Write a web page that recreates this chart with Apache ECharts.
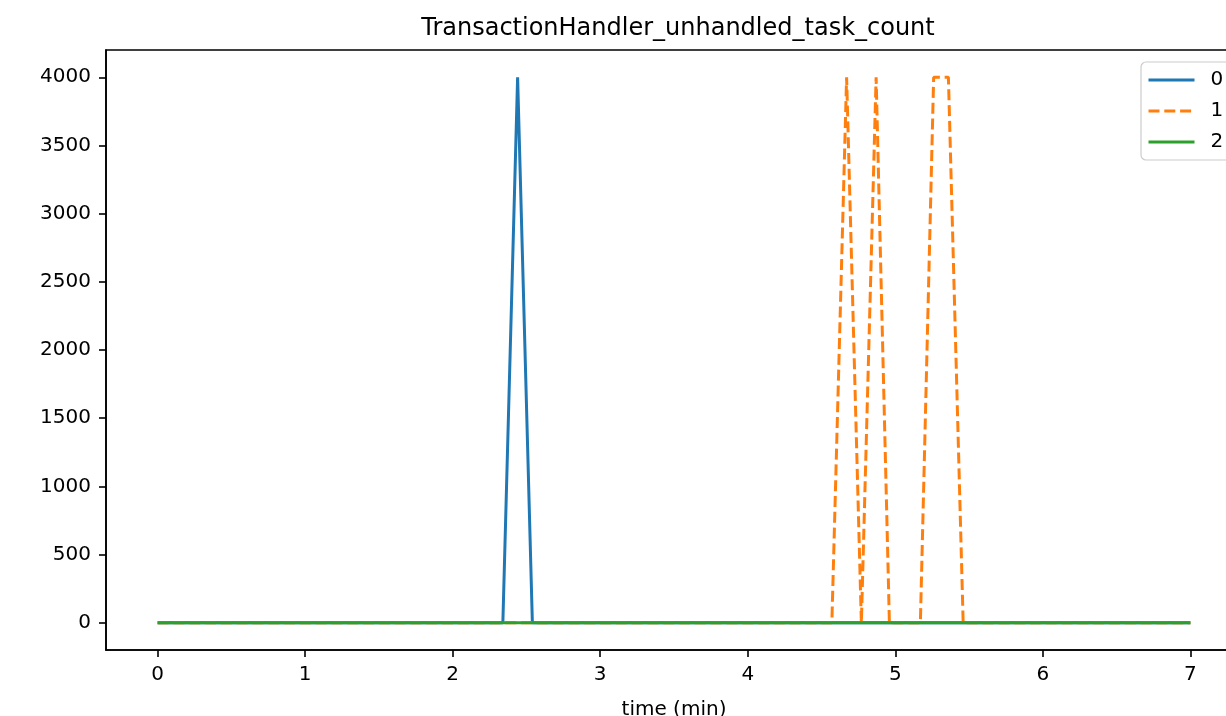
<!DOCTYPE html>
<html lang="en">
<head>
	<meta charset="UTF-8">
	<title>TransactionHandler_unhandled_task_count</title>
	<style type="text/css">
		html, body { margin: 0; padding: 0; background: #fff; }
		#main { width: 1226px; height: 716px; }
	</style>
</head>
<body>
	<div id="main"></div>
	<script type="text/javascript" src="https://cdn.jsdelivr.net/npm/echarts@6/dist/echarts.min.js"></script>
	<script type="text/javascript">
		// time (min) and value for each run
		var time0 = [0, 2.34, 2.44, 2.54, 7];
		var count0 = [0, 0, 4000, 0, 0];
		var time1 = [0, 4.57, 4.67, 4.77, 4.87, 4.96, 5.17, 5.26, 5.36, 5.46, 7];
		var count1 = [0, 0, 4000, 0, 4000, 0, 0, 4000, 4000, 0, 0];
		var time2 = [0, 7];
		var count2 = [0, 0];
		var seriesNames = ['0', '1', '2'];
		var xTicks = [0, 1, 2, 3, 4, 5, 6, 7];
		var yTicks = [0, 500, 1000, 1500, 2000, 2500, 3000, 3500, 4000];

		function pairs(xs, ys) {
			var out = [];
			for (var i = 0; i < xs.length; i++) {
				out.push([xs[i], ys[i]]);
			}
			return out;
		}

		var font = 'DejaVu Sans';
		var chart = echarts.init(document.getElementById('main'));

		var option = {
			animation: false,
			textStyle: { fontFamily: font },
			title: {
				text: 'TransactionHandler_unhandled_task_count',
				left: 673,
				textAlign: 'center',
				top: 12,
				textStyle: { fontFamily: font, fontSize: 24, fontWeight: 'normal', color: '#000' }
			},
			legend: {
				orient: 'vertical',
				left: 1141,
				top: 62,
				padding: [8, 20, 8, 6],
				itemWidth: 46,
				itemHeight: 16,
				itemGap: 11,
				borderColor: '#cccccc',
				borderWidth: 1.2,
				borderRadius: 5,
				backgroundColor: 'rgba(255,255,255,0.8)',
				itemStyle: { opacity: 0 },
				lineStyle: { width: 3 },
				data: seriesNames,
				textStyle: { fontFamily: font, fontSize: 20, color: '#000', padding: [0, 0, 0, 11] }
			},
			grid: {
				left: 106,
				right: -16,
				top: 50,
				bottom: 66,
				show: true,
				borderColor: '#000',
				borderWidth: 1.6,
				containLabel: false,
				outerBoundsMode: 'none'
			},
			xAxis: {
				type: 'value',
				min: -0.35,
				max: 7.35,
				name: 'time (min)',
				nameLocation: 'middle',
				nameGap: 50,
				nameTextStyle: { fontFamily: font, fontSize: 20, color: '#000' },
				splitLine: { show: false },
				axisLine: { show: true, onZero: false, lineStyle: { color: '#000', width: 1.6 } },
				axisTick: { show: true, length: 7, lineStyle: { color: '#000', width: 1.6 }, customValues: xTicks },
				axisLabel: { fontFamily: font, fontSize: 20, color: '#000', margin: 15, customValues: xTicks }
			},
			yAxis: {
				type: 'value',
				min: -200,
				max: 4200,
				splitLine: { show: false },
				axisLine: { show: true, onZero: false, lineStyle: { color: '#000', width: 1.6 } },
				axisTick: { show: true, length: 7, lineStyle: { color: '#000', width: 1.6 }, customValues: yTicks },
				axisLabel: {
					fontFamily: font, fontSize: 20, color: '#000', margin: 15, customValues: yTicks,
					formatter: function (v) { return String(v); }
				}
			},
			series: [
				{
					name: seriesNames[0],
					type: 'line',
					symbol: 'none',
					color: '#1f77b4',
					lineStyle: { width: 3, color: '#1f77b4' },
					data: pairs(time0, count0)
				},
				{
					name: seriesNames[1],
					type: 'line',
					symbol: 'none',
					color: '#ff7f0e',
					lineStyle: { width: 3, color: '#ff7f0e', type: [11, 4.8] },
					data: pairs(time1, count1)
				},
				{
					name: seriesNames[2],
					type: 'line',
					symbol: 'none',
					color: '#2ca02c',
					lineStyle: { width: 3, color: '#2ca02c' },
					data: pairs(time2, count2)
				}
			]
		};

		chart.setOption(option);
	</script>
</body>
</html>
